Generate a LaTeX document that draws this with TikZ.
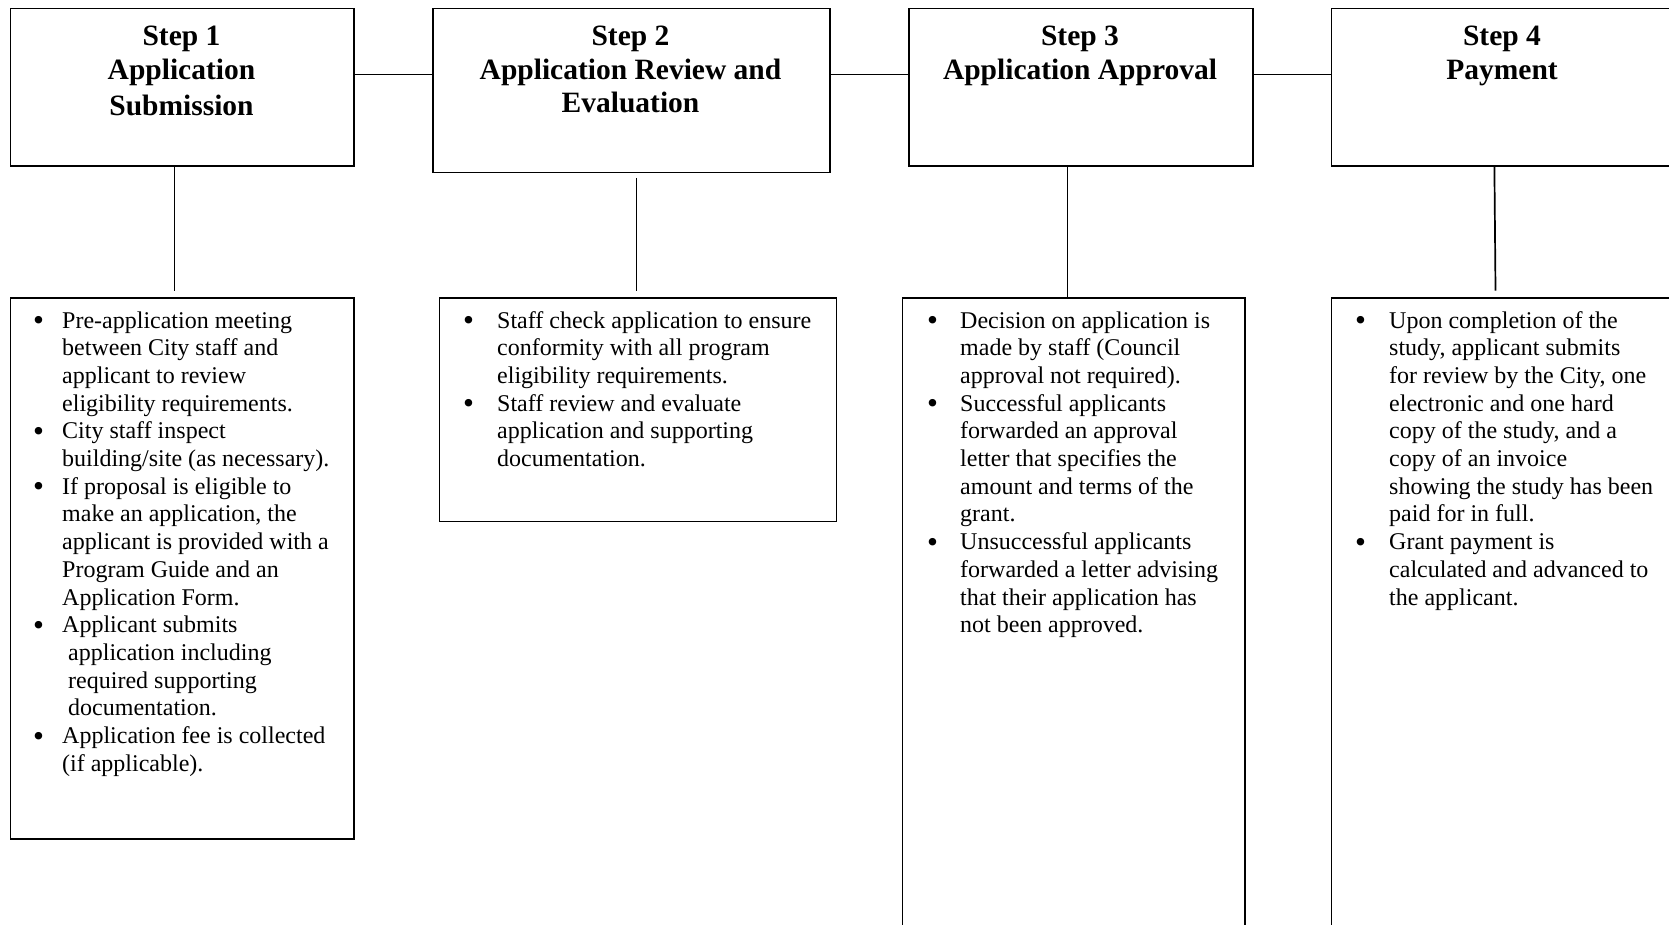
\documentclass[tikz,border=0pt]{standalone}
\usepackage{fontspec}
\setmainfont{Liberation Serif}
\usepackage{array}
\usepackage{graphicx}
\newcommand{\titlefnt}{\fontsize{29.5}{33.5}\selectfont\bfseries}
\newcommand{\bodyfnt}{\fontsize{24}{27.7}\selectfont}
\newcommand{\bul}{\raisebox{-2.5pt}{\scalebox{1.3}{\textbullet}}}
\begin{document}
\begin{tikzpicture}[x=1pt,y=-1pt,
  stepbox/.style={draw, line width=1.8pt, rectangle, anchor=north west, inner sep=0pt},
  titletext/.style={font=\titlefnt, align=center, anchor=base, inner sep=0pt},
  bodytext/.style={font=\bodyfnt, anchor=base west, inner sep=0pt},
  link/.style={line width=1.7pt}]
\useasboundingbox (0,0) rectangle (1669,924);
\clip (0,0) rectangle (1669,924);
\fill[white] (0,0) rectangle (1669,924);

% top boxes
\node[stepbox, minimum width=343.8pt, minimum height=157.5pt] (t1) at (9.6,7.5) {};
\node[stepbox, minimum width=397pt, minimum height=164pt] (t2) at (432,7.5) {};
\node[stepbox, minimum width=344pt, minimum height=157.5pt] (t3) at (908,7.5) {};
\node[stepbox, minimum width=343pt, minimum height=157.5pt] (t4) at (1330.5,7.5) {};

% bottom boxes
\node[stepbox, minimum width=343.8pt, minimum height=540.7pt] (b1) at (9.6,297) {};
\node[stepbox, minimum width=397pt, minimum height=223.5pt] (b2) at (438.5,297) {};
\node[stepbox, minimum width=342.7pt, minimum height=700pt] (b3) at (901.6,297) {};
\node[stepbox, minimum width=343pt, minimum height=700pt] (b4) at (1330.5,297) {};

% titles (anchored at the baseline of the last line)
\node[titletext] (h1) at (181.5,115.5) {Step 1\\Application\\[3pt]Submission};
\node[titletext] (h2) at (630.5,112.5) {Step 2\\Application Review and\\Evaluation};
\node[titletext] (h3) at (1080,79) {Step 3\\Application Approval};
\node[titletext] (h4) at (1502,79) {Step 4\\Payment};

% horizontal connectors
\draw[link] ([yshift=-67pt]t1.north east) -- ([yshift=-67pt]t2.north west);
\draw[link] ([yshift=-67pt]t2.north east) -- ([yshift=-67pt]t3.north west);
\draw[link] ([yshift=-67pt]t3.north east) -- ([yshift=-67pt]t4.north west);

% vertical connectors
\coordinate (v1) at (174.6,290.6);
\coordinate (v2a) at (636.5,177.8);
\coordinate (v2b) at (636.5,290.6);
\coordinate (v4) at (1495.5,290.6);
\draw[link] (t1.south -| v1) -- (v1);
\draw[link] (v2a) -- (v2b);
\draw[link] ([xshift=-13.5pt]t3.south) -- ([xshift=-13.5pt]t3.south |- b3.north);
\draw[link] ([xshift=-8.5pt]t4.south) -- (v4);

% body texts
\node[bodytext] (x1) at (33,328) {\begin{tabular}[t]{@{}p{29pt}@{}l@{}}
\bul & Pre-application meeting\\
 & between City staff and\\
 & applicant to review\\
 & eligibility requirements.\\
\bul & City staff inspect\\
 & building/site (as necessary).\\
\bul & If proposal is eligible to\\
 & make an application, the\\
 & applicant is provided with a\\
 & Program Guide and an\\
 & Application Form.\\
\bul & Applicant submits\\
 & \hspace{6pt}application including\\
 & \hspace{6pt}required supporting\\
 & \hspace{6pt}documentation.\\
\bul & Application fee is collected\\
 & (if applicable).
\end{tabular}};

\node[bodytext] (x2) at (463,328) {\begin{tabular}[t]{@{}p{34pt}@{}l@{}}
\bul & Staff check application to ensure\\
 & conformity with all program\\
 & eligibility requirements.\\
\bul & Staff review and evaluate\\
 & application and supporting\\
 & documentation.
\end{tabular}};

\node[bodytext] (x3) at (927,328) {\begin{tabular}[t]{@{}p{33pt}@{}l@{}}
\bul & Decision on application is\\
 & made by staff (Council\\
 & approval not required).\\
\bul & Successful applicants\\
 & forwarded an approval\\
 & letter that specifies the\\
 & amount and terms of the\\
 & grant.\\
\bul & Unsuccessful applicants\\
 & forwarded a letter advising\\
 & that their application has\\
 & not been approved.
\end{tabular}};

\node[bodytext] (x4) at (1355,328) {\begin{tabular}[t]{@{}p{34pt}@{}l@{}}
\bul & Upon completion of the\\
 & study, applicant submits\\
 & for review by the City, one\\
 & electronic and one hard\\
 & copy of the study, and a\\
 & copy of an invoice\\
 & showing the study has been\\
 & paid for in full.\\
\bul & Grant payment is\\
 & calculated and advanced to\\
 & the applicant.
\end{tabular}};
\end{tikzpicture}
\end{document}
